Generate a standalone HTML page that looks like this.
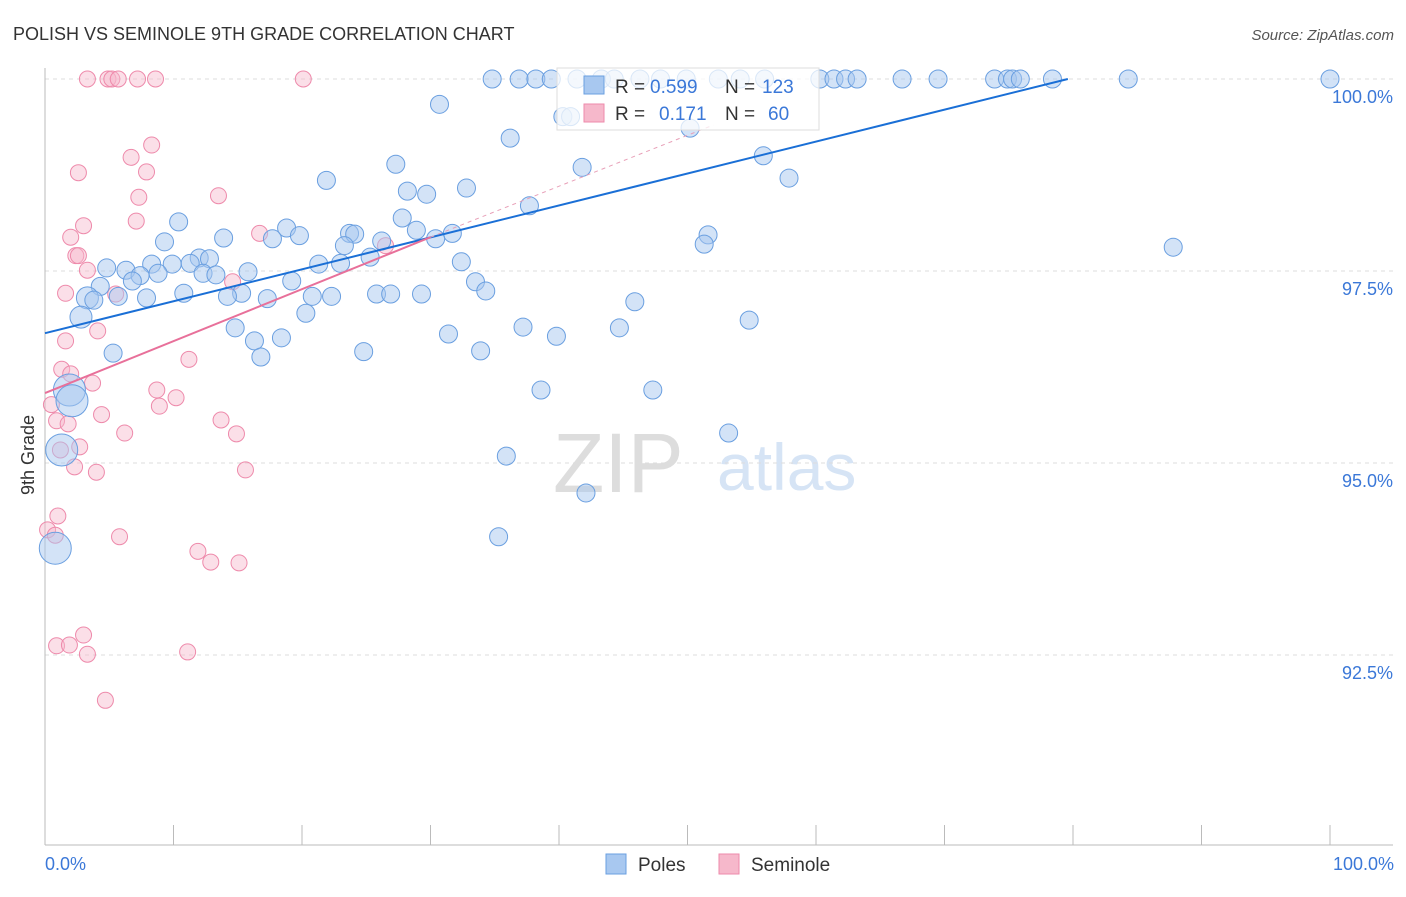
<!DOCTYPE html>
<html><head><meta charset="utf-8">
<style>
body{margin:0;background:#fff;font-family:"Liberation Sans",sans-serif;}
svg text{font-family:"Liberation Sans",sans-serif;}
</style></head>
<body>
<svg id="chart" width="1406" height="892" viewBox="0 0 1406 892" xmlns="http://www.w3.org/2000/svg">
<text x="13" y="40" font-size="18" fill="#333">POLISH VS SEMINOLE 9TH GRADE CORRELATION CHART</text>
<text x="1394" y="40" font-size="15" fill="#555" font-style="italic" text-anchor="end">Source: ZipAtlas.com</text>
<g>
<text x="553" y="492" font-size="84" fill="#ddd" font-family="Liberation Serif,serif">ZIP</text>
<text x="717" y="490" font-size="66" fill="#d6e4f5">atlas</text>
</g>
<g id="grid"></g>
<g id="axes"></g>
<g id="seminole"></g>
<g id="poles"></g>
<g id="trends"></g>
<text transform="translate(34,455) rotate(-90)" font-size="18" fill="#333" text-anchor="middle">9th Grade</text>
<text x="45" y="870" font-size="18" fill="#3b78d8">0.0%</text>
<text x="1394" y="870" font-size="18" fill="#3b78d8" text-anchor="end">100.0%</text>
<g>
<rect x="557" y="68" width="262" height="62" fill="#fff" fill-opacity="0.75" stroke="#ddd"/>
<rect x="584" y="76" width="20" height="18" fill="#a8c8f0" stroke="#6a9fe0"/>
<text x="615" y="93" font-size="19" fill="#333">R =</text>
<text x="650" y="93" font-size="19" fill="#3b78d8">0.599</text>
<text x="725" y="93" font-size="19" fill="#333">N =</text>
<text x="762" y="93" font-size="19" fill="#3b78d8">123</text>
<rect x="584" y="104" width="20" height="18" fill="#f6b8cb" stroke="#ee8aab"/>
<text x="615" y="120" font-size="19" fill="#333">R =</text>
<text x="659" y="120" font-size="19" fill="#3b78d8">0.171</text>
<text x="725" y="120" font-size="19" fill="#333">N =</text>
<text x="768" y="120" font-size="19" fill="#3b78d8">60</text>
</g>
<g>
<rect x="606" y="854" width="20" height="20" fill="#a8c8f0" stroke="#6a9fe0"/>
<text x="638" y="871" font-size="19" fill="#333">Poles</text>
<rect x="719" y="854" width="20" height="20" fill="#f6b8cb" stroke="#ee8aab"/>
<text x="751" y="871" font-size="19" fill="#333">Seminole</text>
</g>
</svg>
<script>
const yTicks=[100,97.5,95,92.5];
const yTickLabels=["100.0%","97.5%","95.0%","92.5%"];
const xTicks=[0,10,20,30,40,50,60,70,80,90,100];
const polesX=[34.8,36.9,38.2,39.4,41.4,43.3,44.3,46.3,47.9,49.9,52.4,54.1,56.0,60.3,61.4,62.3,63.2,66.7,69.5,73.9,74.9,75.3,75.9,78.4,84.3,100,
30.7,40.3,40.9,36.2,50.2,41.8,55.9,27.3,21.9,57.9,28.2,29.7,32.8,37.7,27.8,10.4,18.8,28.9,31.7,23.7,24.1,19.8,9.3,13.9,17.7,26.2,23.3,30.4,51.6,51.3,87.8,25.3,32.4,21.3,23.0,12.0,12.8,8.3,9.9,11.3,4.8,6.3,15.8,8.8,12.3,13.3,7.4,6.8,19.2,33.5,34.3,4.3,10.8,15.3,14.2,17.3,20.8,22.3,25.8,26.9,29.3,5.7,7.9,3.3,3.8,45.9,20.3,2.8,14.8,31.4,37.2,39.8,44.7,54.8,16.3,18.4,16.8,5.3,24.8,33.9,38.6,47.3,1.9,2.1,1.3,53.2,35.9,42.1,35.3,0.8];
const polesY=[100,100,100,100,100,100,100,100,100,100,100,100,100,100,100,100,100,100,100,100,100,100,100,100,100,100,
99.67,99.51,99.51,99.23,99.36,98.85,99.0,98.89,98.68,98.71,98.54,98.50,98.58,98.35,98.19,98.14,98.06,98.03,97.99,97.99,97.98,97.96,97.88,97.93,97.92,97.89,97.83,97.92,97.97,97.85,97.81,97.68,97.62,97.59,97.60,97.67,97.66,97.59,97.59,97.60,97.54,97.51,97.49,97.47,97.47,97.45,97.44,97.37,97.37,97.36,97.24,97.30,97.21,97.21,97.17,97.14,97.17,97.17,97.20,97.20,97.20,97.17,97.15,97.15,97.12,97.10,96.95,96.90,96.76,96.68,96.77,96.65,96.76,96.86,96.59,96.63,96.38,96.43,96.45,96.46,95.95,95.95,95.95,95.81,95.17,95.39,95.09,94.61,94.04,93.89];
const semX=[3.3,4.9,5.2,5.7,7.2,8.6,20.1,8.3,6.7,2.6,7.9,7.3,13.5,3.0,7.1,2.0,16.7,26.5,2.4,2.6,3.3,1.6,14.6,5.5,4.1,1.6,11.2,1.3,2.0,3.7,8.7,10.2,0.5,8.9,0.9,1.8,4.4,13.7,6.2,14.9,1.2,2.7,2.3,4.0,15.6,1.0,0.2,0.8,5.8,11.9,12.9,15.1,3.0,0.9,1.9,3.3,11.1,4.7];
const semY=[100,100,100,100,100,100,100,99.14,98.98,98.78,98.79,98.46,98.48,98.09,98.15,97.94,97.99,97.83,97.70,97.70,97.51,97.21,97.36,97.20,96.72,96.59,96.35,96.22,96.16,96.04,95.95,95.85,95.76,95.74,95.55,95.51,95.63,95.56,95.39,95.38,95.17,95.21,94.95,94.88,94.91,94.31,94.13,94.06,94.04,93.85,93.71,93.70,92.76,92.62,92.63,92.51,92.54,91.91];
const polesTrend=[0,96.69,79.6,100];
const semTrendSolid=[0,95.91,30,97.94];
const semTrendDash=[30,97.94,52,99.4];

const NS="http://www.w3.org/2000/svg";
const sx=v=>45+v*12.85;
const sy=v=>79+(100-v)/2.5*192;
function mk(tag,attrs,parent){const e=document.createElementNS(NS,tag);for(const k in attrs)e.setAttribute(k,attrs[k]);parent.appendChild(e);return e;}
const grid=document.getElementById('grid'),axes=document.getElementById('axes');
yTicks.forEach((t,i)=>{
 const l=mk('line',{x1:45,x2:1393,y1:sy(t),y2:sy(t),stroke:'#ddd','stroke-dasharray':'4,4'},grid);
 
 
 const tx=mk('text',{x:1393,y:sy(t)+24,'font-size':18,fill:'#3b78d8','text-anchor':'end'},grid);
 tx.textContent=yTickLabels[i];
 
 
});
const xa=mk('line',{x1:45,x2:1393,y1:845,y2:845,stroke:'#bbb'},axes);


const ya=mk('line',{x1:45,x2:45,y1:68,y2:845,stroke:'#bbb'},axes);


xTicks.forEach(t=>{
 const l=mk('line',{x1:sx(t),x2:sx(t),y1:825,y2:845,stroke:'#bbb'},axes);
 
 
});
const sg=document.getElementById('seminole');
semX.forEach((x,i)=>{
 const c=mk('circle',{cx:sx(x),cy:sy(semY[i]),r:8,fill:'rgba(246,184,203,0.45)',stroke:'#ee8aab','stroke-width':1},sg);
 
 
});
const pg=document.getElementById('poles');
polesX.forEach((x,i)=>{
 const r=x<2.5?16:(x<3.5?11:9);
 const c=mk('circle',{cx:sx(x),cy:sy(polesY[i]),r:r,fill:'rgba(168,200,240,0.5)',stroke:'#6a9fe0','stroke-width':1},pg);
 
 
});
const tg=document.getElementById('trends');
const t1=mk('line',{x1:sx(polesTrend[0]),y1:sy(polesTrend[1]),x2:sx(polesTrend[2]),y2:sy(polesTrend[3]),stroke:'#1a6fd6','stroke-width':2},tg);


const t2=mk('line',{x1:sx(semTrendSolid[0]),y1:sy(semTrendSolid[1]),x2:sx(semTrendSolid[2]),y2:sy(semTrendSolid[3]),stroke:'#e8709a','stroke-width':2},tg);


const t3=mk('line',{x1:sx(semTrendDash[0]),y1:sy(semTrendDash[1]),x2:sx(semTrendDash[2]),y2:sy(semTrendDash[3]),stroke:'#e8a0b8','stroke-width':1,'stroke-dasharray':'4,4'},tg);


</script>
</body></html>
